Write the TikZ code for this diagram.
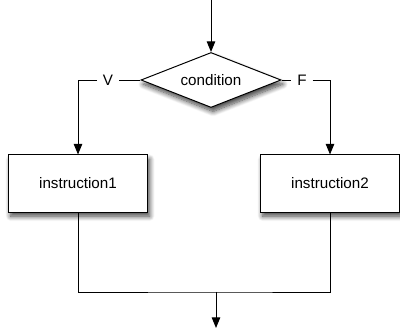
\documentclass[tikz,border=0pt]{standalone}
\usepackage{fontspec}
\setmainfont{Liberation Sans}
\usetikzlibrary{shapes.geometric,arrows.meta,shadows.blur}
\tikzset{
  flowline/.style={line width=0.7pt},
  flowarrow/.style={flowline,-{Triangle[length=7.5pt,width=6pt]}},
  boxshadow/.style={blur shadow={shadow xshift=1.5pt,shadow yshift=-3pt,shadow blur radius=3.5pt,shadow blur steps=10,shadow opacity=75}},
  testnode/.style={diamond,aspect=2.5,draw,line width=0.7pt,fill=white,boxshadow,minimum width=3.5cm,minimum height=1.375cm,inner sep=0pt,font=\fontsize{10.8}{13}\selectfont},
  instrnode/.style={rectangle,draw,line width=0.7pt,fill=white,boxshadow,minimum width=3.475cm,minimum height=1.425cm,font=\fontsize{10.8}{13}\selectfont},
  branchlabel/.style={inner sep=4pt,font=\fontsize{10.8}{13}\selectfont}
}
\begin{document}
\begin{tikzpicture}[x=0.025cm,y=0.025cm]
\useasboundingbox (0,0) rectangle (400,328);
\node[testnode] (cond) at (211,248) {condition};
\node[branchlabel] (lblV) at (108,248) {V};
\node[branchlabel] (lblF) at (302,248) {F};
\node[instrnode] (instr1) at (78,144.5) {instruction1};
\node[instrnode] (instr2) at (330,144.5) {instruction2};
\coordinate (entry) at (211,328);
\coordinate (join) at (216,36);
\coordinate (exit) at (216,0);
\draw[flowarrow] (entry) -- (cond);
\draw[flowline] (cond.west) -- (lblV);
\draw[flowline] (cond.east) -- (lblF);
\draw[flowarrow] (lblV) -| (instr1);
\draw[flowarrow] (lblF) -| (instr2);
\draw[flowline] (instr1.south) |- (join) -| (instr2.south);
\draw[flowarrow] (join) -- (exit);
\end{tikzpicture}
\end{document}
